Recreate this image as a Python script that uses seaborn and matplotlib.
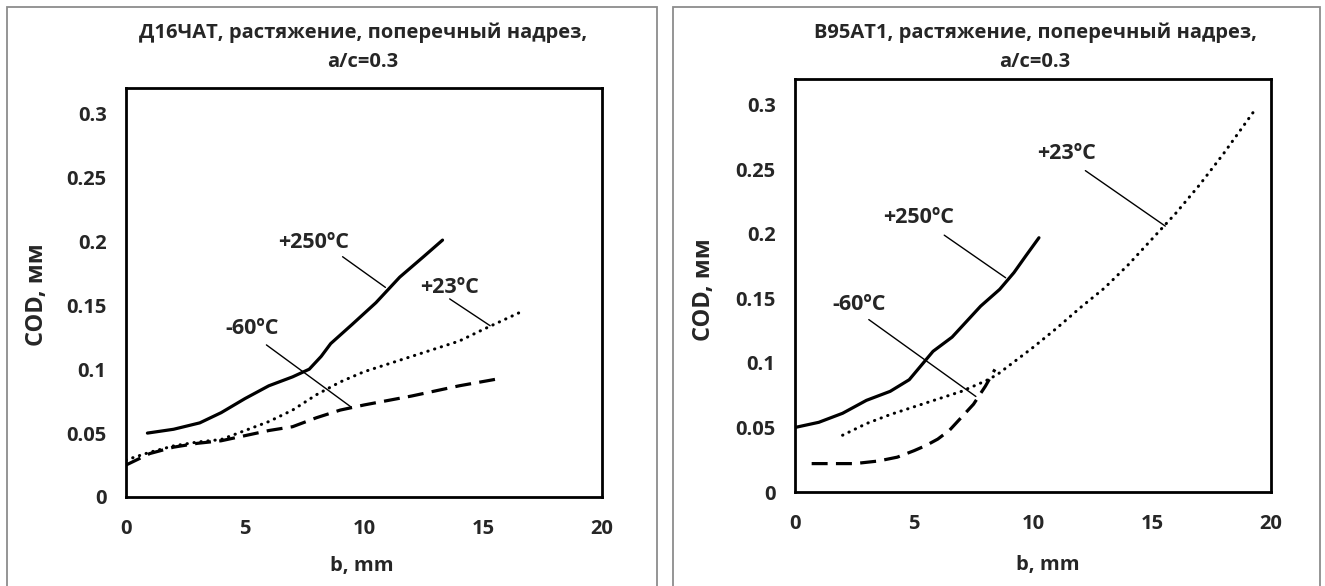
import matplotlib
matplotlib.use("Agg")
import matplotlib.pyplot as plt
from matplotlib.patches import Rectangle
import seaborn as sns

# ---- data: left panel (Д16ЧАТ)
d16_hot_x = [0.9, 2, 3.1, 4, 5, 6, 7, 7.7, 8.2, 8.6, 9.5, 10.5, 11.5, 12.5, 13.3]
d16_hot_y = [0.050, 0.053, 0.058, 0.066, 0.077, 0.087, 0.094, 0.100, 0.110, 0.120,
             0.135, 0.152, 0.172, 0.188, 0.201]
d16_room_x = [0, 1, 2, 3, 4, 5, 6, 7, 8, 9, 10, 11, 12, 13, 14, 15, 16.5]
d16_room_y = [0.029, 0.035, 0.040, 0.043, 0.045, 0.052, 0.059, 0.068, 0.080, 0.090,
              0.098, 0.104, 0.110, 0.116, 0.122, 0.131, 0.144]
d16_cold_x = [0, 1, 2, 3, 4, 5, 6, 7, 8, 9, 10, 12, 14, 15.8]
d16_cold_y = [0.025, 0.034, 0.039, 0.042, 0.044, 0.048, 0.052, 0.055, 0.062, 0.068,
              0.072, 0.079, 0.087, 0.093]

# ---- data: right panel (В95АТ1)
b95_hot_x = [0, 1, 2, 3, 4, 4.8, 5.3, 5.8, 6.6, 7.2, 7.8, 8.6, 9.2, 9.7, 10.25]
b95_hot_y = [0.050, 0.054, 0.061, 0.071, 0.078, 0.087, 0.098, 0.109, 0.120, 0.132,
             0.144, 0.157, 0.170, 0.183, 0.197]
b95_room_x = [2, 3, 4, 5, 6, 7, 8, 8.5, 9, 10, 11, 12, 13, 14, 15, 16, 17, 18, 19.4]
b95_room_y = [0.044, 0.053, 0.060, 0.066, 0.072, 0.078, 0.086, 0.091, 0.098, 0.112,
              0.127, 0.143, 0.158, 0.176, 0.196, 0.216, 0.238, 0.262, 0.298]
b95_cold_x = [0.7, 1.5, 2.5, 3.5, 4.3, 5, 5.5, 6, 6.5, 7, 7.5, 8, 8.4]
b95_cold_y = [0.022, 0.022, 0.022, 0.024, 0.027, 0.032, 0.036, 0.041, 0.048, 0.058,
              0.068, 0.082, 0.095]

labels = ["+250ºC", "+23ºC", "-60ºC"]
titles = ["Д16ЧАТ, растяжение, поперечный надрез,", "В95АТ1, растяжение, поперечный надрез,"]
subtitle = "a/c=0.3"
x_ticks = [0, 5, 10, 15, 20]
y_ticks = [0, 0.05, 0.1, 0.15, 0.2, 0.25, 0.3]
y_tick_labels = ["0", "0.05", "0.1", "0.15", "0.2", "0.25", "0.3"]

# label positions and leader lines (text xy, line start, line end)
d16_notes = [((7.9, 0.199), (9.1, 0.188), (10.9, 0.164)),
             ((13.6, 0.164), (13.6, 0.155), (15.3, 0.134)),
             ((5.3, 0.132), (5.9, 0.119), (9.45, 0.0705))]
b95_notes = [((5.2, 0.213), (6.27, 0.199), (8.85, 0.166)),
             ((11.4, 0.262), (12.2, 0.249), (15.56, 0.206)),
             ((2.7, 0.145), (3.1, 0.1336), (7.6, 0.074))]

sns.set_style("white")
plt.rcParams['font.family'] = ['Open Sans', 'DejaVu Sans']
plt.rcParams['font.weight'] = 'bold'

FS = 14.5

fig = plt.figure(figsize=(13.25, 5.86), dpi=100)

# panel frames
for x0, w in [(7 / 1325, 650 / 1325), (673 / 1325, 647 / 1325)]:
    fig.patches.append(Rectangle((x0, -0.01), w, 1 - 7 / 586 + 0.01, transform=fig.transFigure,
                                 fill=False, edgecolor='#8c8c8c', linewidth=1.3))

ax1 = fig.add_axes([126 / 1325, 1 - 497 / 586, 476 / 1325, 409 / 586])
ax2 = fig.add_axes([795 / 1325, 1 - 492 / 586, 476 / 1325, 413 / 586])

styles = [dict(linestyle='-', linewidth=2.3),
          dict(linestyle=(0, (0.1, 2.2)), linewidth=2.2, dash_capstyle='round'),
          dict(linestyle=(0, (5, 2.6)), linewidth=2.3)]

panels = [
    (ax1, [(d16_hot_x, d16_hot_y), (d16_room_x, d16_room_y), (d16_cold_x, d16_cold_y)], d16_notes, titles[0], 363, 33),
    (ax2, [(b95_hot_x, b95_hot_y), (b95_room_x, b95_room_y), (b95_cold_x, b95_cold_y)], b95_notes, titles[1], 1035, 33),
]

for ax, series, notes, title, tx, ty in panels:
    for (xs, ys), st in zip(series, styles):
        sns.lineplot(x=xs, y=ys, ax=ax, color='black', sort=False, **st)
    for lab, (txy, p0, p1) in zip(labels, notes):
        ax.text(txy[0], txy[1], lab, ha='center', va='center', fontsize=15.5, fontweight='bold')
        ax.annotate('', xy=p1, xytext=p0, arrowprops=dict(arrowstyle='-', lw=1.0, color='black',
                                                         shrinkA=0, shrinkB=0))
    ax.set_xlim(0, 20)
    ax.set_ylim(0, 0.32)
    ax.set_xticks(x_ticks)
    ax.set_xticklabels([str(t) for t in x_ticks])
    ax.set_yticks(y_ticks)
    ax.set_yticklabels(y_tick_labels)
    ax.tick_params(axis='both', direction='out', length=5, width=1.8, labelsize=FS, color='black')
    ax.tick_params(axis='x', pad=11)
    ax.tick_params(axis='y', pad=9)
    for lab in ax.get_xticklabels() + ax.get_yticklabels():
        lab.set_fontweight('bold')
    for sp in ax.spines.values():
        sp.set_visible(True)
        sp.set_color('black')
        sp.set_linewidth(2.0)
    ax.set_xlabel('')
    ax.set_ylabel('')
    fig.text(tx / 1325, 1 - ty / 586, title, ha='center', va='center', fontsize=FS, fontweight='bold')
    fig.text(tx / 1325, 1 - (ty + 29) / 586, subtitle, ha='center', va='center', fontsize=FS, fontweight='bold')

fig.text(37 / 1325, 1 - 295 / 586, 'COD, мм', rotation=90, ha='center', va='center', fontsize=17, fontweight='bold')
fig.text(704 / 1325, 1 - 290 / 586, 'COD, мм', rotation=90, ha='center', va='center', fontsize=17, fontweight='bold')
fig.text(362 / 1325, 1 - 566 / 586, 'b, mm', ha='center', va='center', fontsize=FS, fontweight='bold')
fig.text(1048 / 1325, 1 - 565 / 586, 'b, mm', ha='center', va='center', fontsize=FS, fontweight='bold')

fig.savefig('out.png', dpi=100)
